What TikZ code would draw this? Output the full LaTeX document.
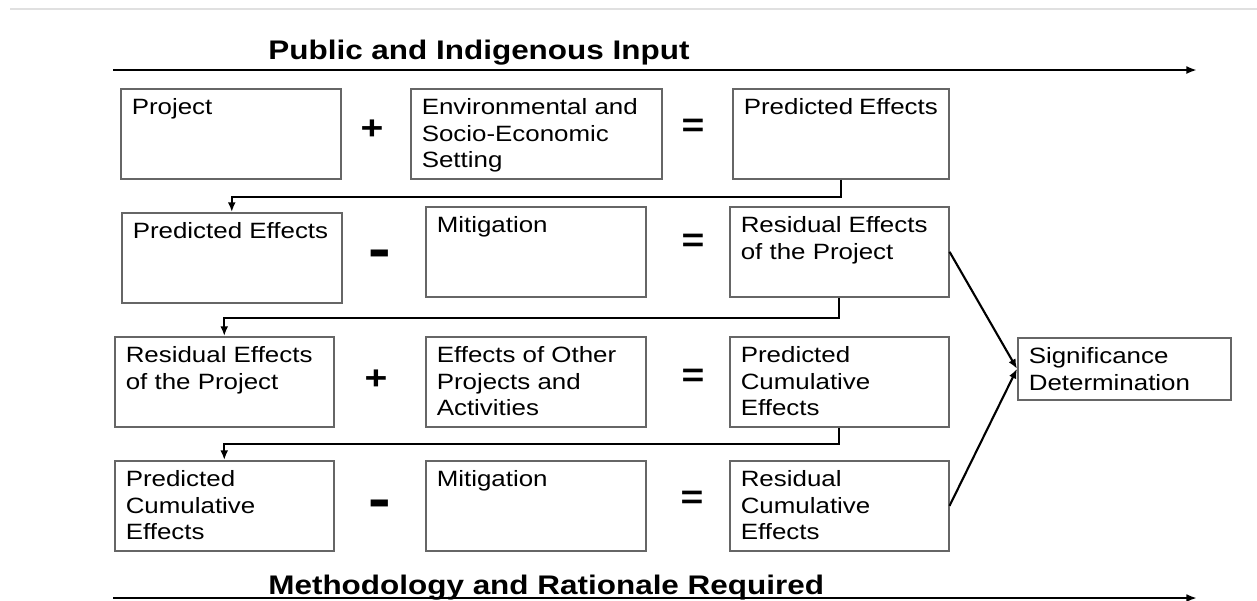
\documentclass[tikz,border=0pt]{standalone}
\usepackage{fontspec}
\setmainfont{Liberation Sans}[FakeStretch=1.17]
\usetikzlibrary{arrows.meta}

\newcommand{\celltext}[3]{\parbox[t][#2][t]{#1}{\strut#3}}

\tikzset{
  cell/.style={draw=black!60, line width=0.9pt, anchor=north west, inner xsep=0.22cm, inner ysep=0.15cm, font=\fontsize{12.6}{15.1}\selectfont},
  sign/.style={font=\fontsize{19}{19}\selectfont\bfseries},
  minus/.style={font=\fontsize{33}{33}\selectfont\bfseries},
  flow/.style={-{Latex[length=5.5pt,width=4.5pt]}, line width=1.2pt},
  band/.style={-{Latex[length=6pt,width=4.5pt]}, line width=1.4pt},
  heading/.style={anchor=base west, inner sep=0pt, font=\fontsize{15.3}{15.3}\selectfont\bfseries}
}

\begin{document}
\begin{tikzpicture}[x=0.02cm, y=-0.02cm]
    \useasboundingbox (0,0) rectangle (1257,600);
    \draw[black!12, line width=0.8pt] (10,9) -- (1257,9);

    % inputs along the top
    \node[heading] (input) at (268,59) {Public and Indigenous Input};
    \coordinate (inStart) at (113,70);
    \coordinate (inEnd) at (1197,70);
    \draw[band] (inStart) -- (inEnd);

    % row 1
    \node[cell] (project) at (120,88) {\celltext{3.96cm}{1.5cm}{Project}};
    \node[sign] (plusA) at (372,130) {+};
    \node[cell] (setting) at (410,88) {\celltext{4.58cm}{1.5cm}{Environmental and\\Socio-Economic\\Setting}};
    \node[sign] (eqA) at (693,128) {=};
    \node[cell] (predicted) at (732,88) {\celltext{3.88cm}{1.5cm}{Predicted Effects}};

    % row 2
    \node[cell] (predictedB) at (121,212) {\celltext{3.96cm}{1.5cm}{Predicted Effects}};
    \node[minus] (minusA) at (380,259) {-};
    \node[cell] (mitigation) at (425,206) {\celltext{3.96cm}{1.5cm}{Mitigation}};
    \node[sign] (eqB) at (693,243) {=};
    \node[cell] (residual) at (729,206) {\celltext{3.94cm}{1.5cm}{Residual Effects\\of the Project}};

    % row 3
    \node[cell] (residualB) at (114,336) {\celltext{3.94cm}{1.5cm}{Residual Effects\\of the Project}};
    \node[sign] (plusB) at (376,380) {+};
    \node[cell] (others) at (425,336) {\celltext{3.96cm}{1.5cm}{Effects of Other\\Projects and\\Activities}};
    \node[sign] (eqC) at (693,378) {=};
    \node[cell] (cumulative) at (729,336) {\celltext{3.94cm}{1.5cm}{Predicted\\Cumulative\\Effects}};

    % row 4
    \node[cell] (cumulativeB) at (114,460) {\celltext{3.94cm}{1.5cm}{Predicted\\Cumulative\\Effects}};
    \node[minus] (minusB) at (380,509) {-};
    \node[cell] (mitigationB) at (425,460) {\celltext{3.96cm}{1.5cm}{Mitigation}};
    \node[sign] (eqD) at (692,500) {=};
    \node[cell] (rescumul) at (729,460) {\celltext{3.94cm}{1.5cm}{Residual\\Cumulative\\Effects}};

    \node[cell] (signif) at (1017,337) {\celltext{3.82cm}{0.94cm}{Significance\\Determination}};

    % carry each result down to the next row
    \draw[flow] (predicted.south) -- ++(0,17) -| (predictedB.north);
    \draw[flow] (residual.south) -- ++(0,20) -| (residualB.north);
    \draw[flow] (cumulative.south) -- ++(0,16) -| (cumulativeB.north);

    \draw[flow] (residual.east) -- (signif.west);
    \draw[flow] (rescumul.east) -- (signif.west);

    % requirement along the bottom
    \node[heading] (method) at (268,594) {Methodology and Rationale Required};
    \coordinate (reqStart) at (113,598);
    \coordinate (reqEnd) at (1197,598);
    \draw[band] (reqStart) -- (reqEnd);
\end{tikzpicture}
\end{document}
